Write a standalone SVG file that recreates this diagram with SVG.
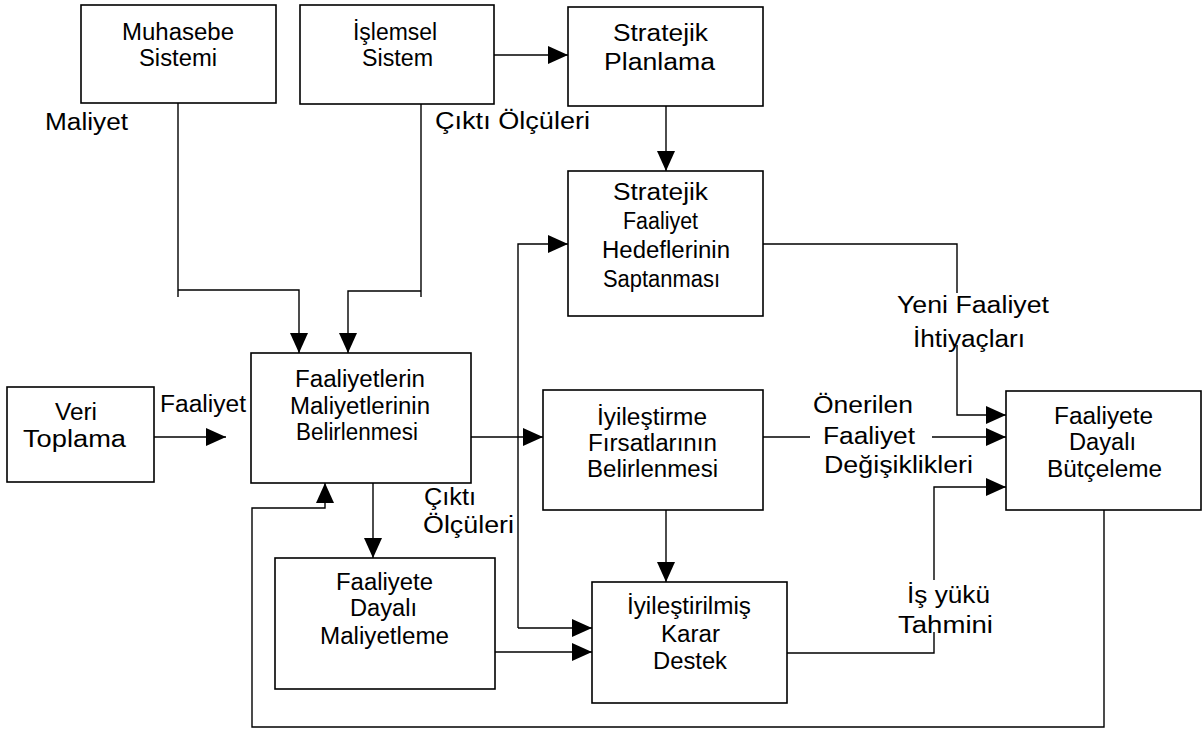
<svg xmlns="http://www.w3.org/2000/svg" width="1203" height="729" viewBox="0 0 1203 729">
  <style>
    .box { fill: #fff; stroke: #000; stroke-width: 1.6; }
    .ln { fill: none; stroke: #000; stroke-width: 1.4; }
    .arr { marker-end: url(#ah); }
    text { font-family: "Liberation Sans", Arial, sans-serif; font-size: 23px; fill: #000; text-anchor: middle; }
  </style>
  <defs>
    <marker id="ah" viewBox="0 0 20 18" refX="20" refY="9" markerWidth="20" markerHeight="18" markerUnits="userSpaceOnUse" orient="auto">
      <path d="M0,0 L20,9 L0,18 Z" fill="#000"/>
    </marker>
  </defs>
  <rect width="1203" height="729" fill="#fff"/>

  <!-- connectors -->
  <g id="connectors">
    <path class="ln" d="M178,103 V297"/>
    <path class="ln arr" d="M178,290 H299 V353"/>
    <path class="ln" d="M421,104 V297"/>
    <path class="ln arr" d="M421,291 H348 V353"/>
    <path class="ln arr" d="M494,55 H568"/>
    <path class="ln arr" d="M666,106 V171"/>
    <path class="ln arr" d="M154,437 H226"/>
    <path class="ln arr" d="M471,437 H543"/>
    <path class="ln arr" d="M518,628 V244 H568"/>
    <path class="ln arr" d="M518,628 H592"/>
    <path class="ln arr" d="M373,483 V558"/>
    <path class="ln arr" d="M495,652 H592"/>
    <path class="ln arr" d="M666,510 V582"/>
    <path class="ln" d="M763,437 H810"/>
    <path class="ln arr" d="M932,437 H1006"/>
    <path class="ln" d="M763,244 H957 V293"/>
    <path class="ln arr" d="M957,345 V415 H1006"/>
    <path class="ln" d="M787,653 H934 V632"/>
    <path class="ln arr" d="M934,580 V487 H1006"/>
    <path class="ln arr" d="M1104,510 V727 H252 V508 H325 V483"/>
  </g>

  <!-- connector labels -->
  <g id="labels">
    <text x="86.5" y="130" textLength="83" lengthAdjust="spacingAndGlyphs">Maliyet</text>
    <text x="512.5" y="129" textLength="155" lengthAdjust="spacingAndGlyphs">Çıktı Ölçüleri</text>
    <text x="203" y="412" textLength="86" lengthAdjust="spacingAndGlyphs">Faaliyet</text>
    <text x="450" y="505" textLength="52" lengthAdjust="spacingAndGlyphs">Çıktı</text>
    <text x="468.5" y="533" textLength="91" lengthAdjust="spacingAndGlyphs">Ölçüleri</text>
    <text x="973" y="313" textLength="152" lengthAdjust="spacingAndGlyphs">Yeni Faaliyet</text>
    <text x="969" y="347" textLength="112" lengthAdjust="spacingAndGlyphs">İhtiyaçları</text>
    <text x="863" y="413" textLength="100" lengthAdjust="spacingAndGlyphs">Önerilen</text>
    <text x="869" y="444" textLength="92" lengthAdjust="spacingAndGlyphs">Faaliyet</text>
    <text x="898.5" y="473" textLength="149" lengthAdjust="spacingAndGlyphs">Değişiklikleri</text>
    <text x="948.5" y="603" textLength="83" lengthAdjust="spacingAndGlyphs">İş yükü</text>
    <text x="945.5" y="633" textLength="95" lengthAdjust="spacingAndGlyphs">Tahmini</text>
  </g>

  <!-- nodes -->
  <g id="muhasebe-sistemi">
    <rect class="box" x="81" y="5" width="195" height="98"/>
    <text x="178" y="40" textLength="112" lengthAdjust="spacingAndGlyphs">Muhasebe</text>
    <text x="178" y="66" textLength="78" lengthAdjust="spacingAndGlyphs">Sistemi</text>
  </g>
  <g id="islemsel-sistem">
    <rect class="box" x="300" y="5" width="194" height="99"/>
    <text x="395" y="40" textLength="84" lengthAdjust="spacingAndGlyphs">İşlemsel</text>
    <text x="397.5" y="66" textLength="71" lengthAdjust="spacingAndGlyphs">Sistem</text>
  </g>
  <g id="stratejik-planlama">
    <rect class="box" x="568" y="7" width="195" height="99"/>
    <text x="660.5" y="41" textLength="95" lengthAdjust="spacingAndGlyphs">Stratejik</text>
    <text x="659.5" y="70" textLength="111" lengthAdjust="spacingAndGlyphs">Planlama</text>
  </g>
  <g id="stratejik-hedefler">
    <rect class="box" x="568" y="171" width="195" height="145"/>
    <text x="660.5" y="200" textLength="95" lengthAdjust="spacingAndGlyphs">Stratejik</text>
    <text x="660.5" y="229" textLength="75" lengthAdjust="spacingAndGlyphs">Faaliyet</text>
    <text x="666" y="258" textLength="128" lengthAdjust="spacingAndGlyphs">Hedeflerinin</text>
    <text x="661.5" y="287" textLength="117" lengthAdjust="spacingAndGlyphs">Saptanması</text>
  </g>
  <g id="veri-toplama">
    <rect class="box" x="7" y="387" width="147" height="95"/>
    <text x="76" y="420" textLength="42" lengthAdjust="spacingAndGlyphs">Veri</text>
    <text x="74.5" y="447" textLength="103" lengthAdjust="spacingAndGlyphs">Toplama</text>
  </g>
  <g id="maliyet-belirleme">
    <rect class="box" x="251" y="353" width="220" height="130"/>
    <text x="360" y="387" textLength="130" lengthAdjust="spacingAndGlyphs">Faaliyetlerin</text>
    <text x="360" y="414" textLength="140" lengthAdjust="spacingAndGlyphs">Maliyetlerinin</text>
    <text x="357" y="440" textLength="122" lengthAdjust="spacingAndGlyphs">Belirlenmesi</text>
  </g>
  <g id="iyilestirme-firsatlari">
    <rect class="box" x="543" y="390" width="220" height="120"/>
    <text x="652" y="425" textLength="110" lengthAdjust="spacingAndGlyphs">İyileştirme</text>
    <text x="652.5" y="451" textLength="129" lengthAdjust="spacingAndGlyphs">Fırsatlarının</text>
    <text x="652.5" y="477" textLength="131" lengthAdjust="spacingAndGlyphs">Belirlenmesi</text>
  </g>
  <g id="faaliyete-dayali-butceleme">
    <rect class="box" x="1006" y="391" width="195" height="119"/>
    <text x="1103.5" y="424" textLength="99" lengthAdjust="spacingAndGlyphs">Faaliyete</text>
    <text x="1102.5" y="450" textLength="67" lengthAdjust="spacingAndGlyphs">Dayalı</text>
    <text x="1104.5" y="477" textLength="115" lengthAdjust="spacingAndGlyphs">Bütçeleme</text>
  </g>
  <g id="faaliyete-dayali-maliyetleme">
    <rect class="box" x="275" y="558" width="220" height="131"/>
    <text x="384.5" y="590" textLength="97" lengthAdjust="spacingAndGlyphs">Faaliyete</text>
    <text x="383.5" y="616" textLength="67" lengthAdjust="spacingAndGlyphs">Dayalı</text>
    <text x="384.5" y="644" textLength="129" lengthAdjust="spacingAndGlyphs">Maliyetleme</text>
  </g>
  <g id="karar-destek">
    <rect class="box" x="592" y="582" width="195" height="121"/>
    <text x="689" y="614" textLength="124" lengthAdjust="spacingAndGlyphs">İyileştirilmiş</text>
    <text x="690.5" y="642" textLength="59" lengthAdjust="spacingAndGlyphs">Karar</text>
    <text x="690" y="669" textLength="74" lengthAdjust="spacingAndGlyphs">Destek</text>
  </g>
</svg>
